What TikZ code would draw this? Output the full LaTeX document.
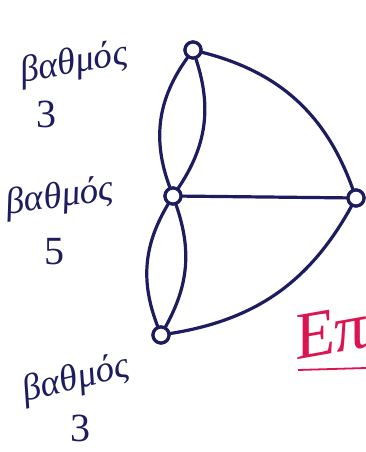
\documentclass[tikz,border=0pt]{standalone}
\usepackage{fontspec}
\setmainfont{Liberation Serif}
\begin{document}
\begin{tikzpicture}[x=1pt,y=1pt,
  ink/.style={line width=3.2pt, draw={rgb,255:red,28;green,28;blue,95}, line cap=round},
  vert/.style={circle, ink, fill=white, minimum size=16pt, inner sep=0pt},
  lbl/.style={text={rgb,255:red,28;green,28;blue,95}, font=\itshape\fontsize{37}{37}\selectfont},
  num/.style={text={rgb,255:red,28;green,28;blue,95}, font=\fontsize{40}{40}\selectfont}]
\useasboundingbox (0,0) rectangle (366,452);
\clip (0,0) rectangle (366,452);
\fill[white] (0,0) rectangle (366,452);
% vertices
\node[vert] (A) at (193,402) {};
\node[vert] (B) at (173,256) {};
\node[vert] (C) at (356,254) {};
\node[vert] (D) at (161,117) {};
% edges
\draw[ink] (A) to[bend right=28] (B);
\draw[ink] (A) to[bend left=26] (B);
\draw[ink] (A) to[bend left=28] (C);
\draw[ink] (B) -- (C);
\draw[ink] (B) to[bend right=26] (D);
\draw[ink] (B) to[bend left=24] (D);
\draw[ink] (D) to[bend right=26] (C);
% redraw vertices on top
\node[vert] at (A) {};
\node[vert] at (B) {};
\node[vert] at (C) {};
\node[vert] at (D) {};
% labels
\node[lbl, rotate=10] (L1) at (74,388) {βαθμός};
\node[num] (N1) at (46,338) {3};
\node[lbl, rotate=8] (L2) at (60,254) {βαθμός};
\node[num] (N2) at (54,200) {5};
\node[lbl, rotate=14] (L3) at (76,72) {βαθμός};
\node[num] (N3) at (80,24) {3};
% red word, cut off at the edge
\node[text={rgb,255:red,220;green,20;blue,80}, font=\itshape\fontsize{66}{66}\selectfont, rotate=10, anchor=base west, inner sep=0pt] (R) at (298,92) {Επ};
\draw[line width=1.8pt, draw={rgb,255:red,220;green,20;blue,80}] (298,82) -- (366,84);
\end{tikzpicture}
\end{document}
